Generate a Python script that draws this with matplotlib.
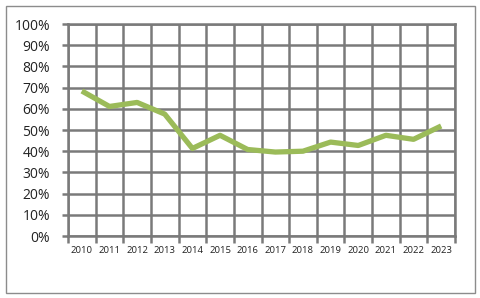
import matplotlib
matplotlib.use("Agg")
import matplotlib.pyplot as plt
from matplotlib.patches import Rectangle
import numpy as np

years = ["2010", "2011", "2012", "2013", "2014", "2015", "2016",
         "2017", "2018", "2019", "2020", "2021", "2022", "2023"]
values = [68.4, 61.1, 63.0, 57.5, 41.3, 47.5, 40.8,
          39.6, 40.0, 44.3, 42.7, 47.5, 45.6, 51.9]
y_ticks = [0, 10, 20, 30, 40, 50, 60, 70, 80, 90, 100]
y_labels = [f"{v}%" for v in y_ticks]

plt.rcParams['font.family'] = ['Open Sans', 'DejaVu Sans']

fig = plt.figure(figsize=(4.8, 2.98), dpi=100)
fig.patch.set_facecolor("white")
fig.patches.append(Rectangle((6/480, 1-293/298), 469/480, 287/298,
                             transform=fig.transFigure, fill=False,
                             edgecolor="#8c8c8c", linewidth=1.0))

ax = fig.add_axes([68/480, 1-236/298, 387/480, 212/298])
grid_c = "#7a7a7a"
x = np.arange(len(years))
ax.set_xlim(-0.5, len(years) - 0.5)
ax.set_ylim(0, 100)

ax.set_xticks(x)
ax.set_xticklabels(years, fontsize=6.8, color="#222222")
ax.set_xticks(np.arange(-0.5, len(years)), minor=True)
ax.tick_params(axis="x", which="major", length=0, pad=7)
ax.tick_params(axis="x", which="minor", length=5, width=1.8, color=grid_c)
ax.set_yticks(y_ticks)
ax.set_yticklabels(y_labels, fontsize=10, color="#222222")
ax.tick_params(axis="y", length=4, width=1.8, color=grid_c, pad=9)

ax.grid(True, axis="y", which="major", color=grid_c, linewidth=1.8)
ax.grid(True, axis="x", which="minor", color=grid_c, linewidth=1.8)
ax.grid(False, axis="x", which="major")
for s in ax.spines.values():
    s.set_color(grid_c)
    s.set_linewidth(1.8)
ax.set_axisbelow(True)

ax.plot(x, values, color="#9bbb59", linewidth=3.8, solid_joinstyle="round",
        solid_capstyle="butt", zorder=3, clip_on=False)

fig.savefig("out.png", dpi=100, facecolor="white")
